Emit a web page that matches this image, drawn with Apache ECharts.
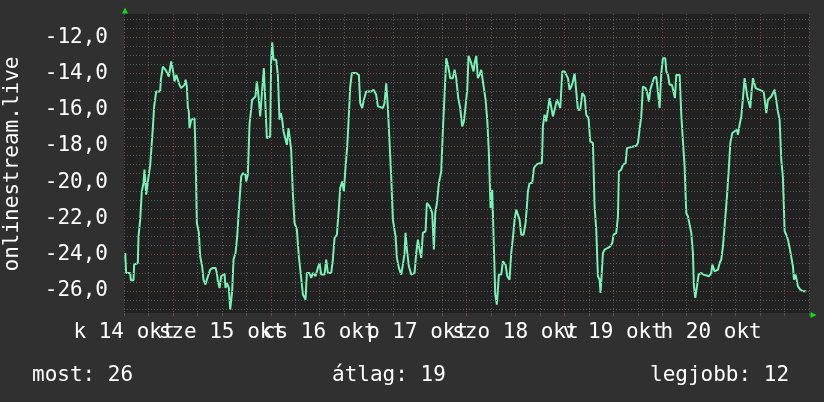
<!DOCTYPE html>
<html><head><meta charset="utf-8">
<script src="https://cdn.jsdelivr.net/npm/echarts@6/dist/echarts.min.js"></script>
<style>html,body{margin:0;padding:0;background:#303030}#c{width:824px;height:402px}</style>
</head><body><div id="c"></div>
<script>
// hours since 14 okt 12:00
const hours = [0.29,0.53,1.51,1.68,2.33,2.49,3.39,3.56,3.97,4.37,4.78,5.03,5.27,5.44,5.85,6.26,6.42,6.91,7.07,7.40,7.89,8.87,9.04,9.36,9.53,9.93,10.18,10.51,11.00,11.57,11.98,12.39,12.80,13.20,13.61,14.02,14.84,15.09,15.41,15.66,15.90,16.07,16.48,17.29,17.54,17.87,18.36,18.68,19.17,19.50,19.99,20.32,20.81,21.14,21.79,22.44,22.77,23.02,23.43,23.84,24.65,24.90,25.22,25.72,26.04,26.53,26.86,27.35,27.76,28.17,28.74,29.15,29.80,29.96,30.37,30.78,31.19,31.43,32.25,32.58,32.99,33.40,33.65,33.89,34.30,34.71,35.03,35.52,35.85,36.09,36.34,36.67,37.33,37.73,38.14,38.47,38.80,39.13,39.62,39.94,40.35,40.76,41.00,41.41,41.82,42.39,42.88,43.46,43.87,44.52,44.85,
45.50,45.91,46.32,46.97,47.55,47.96,48.36,49.18,49.59,50.00,50.82,51.23,51.63,52.21,52.70,53.02,53.52,53.92,54.25,54.74,55.07,55.48,55.89,56.95,57.60,57.93,58.42,58.83,59.40,60.63,61.20,61.85,62.27,63.49,63.90,64.31,64.72,65.13,65.53,65.94,66.60,66.93,67.42,67.99,68.40,68.81,69.05,69.38,69.87,70.44,71.26,71.67,72.08,72.49,72.90,73.30,73.96,74.28,74.94,75.59,76.00,76.33,76.74,77.23,77.80,78.21,78.62,79.03,79.52,80.01,80.66,81.07,81.48,81.97,82.46,82.95,83.36,83.77,84.18,84.50,85.16,85.73,85.98,86.39,86.79,87.20,87.61,88.02,88.68,89.09,89.49,89.90,90.31,90.72,91.05,91.45,91.94,92.52,92.93,93.58,93.99,94.56,94.97,95.38,95.79,96.20,96.61,97.02,97.42,98.00,98.49,98.81,99.06,99.47,100.12,100.53,101.10,101.92,102.50,
102.74,103.15,103.56,103.97,104.38,104.79,105.20,105.60,106.18,106.67,107.00,107.49,108.06,108.47,108.88,109.28,109.69,110.10,110.51,110.92,111.33,111.90,112.39,112.96,113.37,113.94,114.35,115.01,115.41,115.82,116.23,116.64,116.88,117.29,117.46,117.87,118.68,119.26,119.75,120.07,120.73,121.14,121.38,121.95,122.36,123.02,123.35,123.84,125.64,126.04,126.45,126.86,127.27,127.93,128.25,128.74,129.07,129.56,129.97,130.54,130.95,131.36,131.77,132.18,132.75,133.00,133.41,133.81,134.39,134.79,135.12,135.45,135.86,136.27,136.68,137.08,137.49,137.90,138.31,138.72,139.13,139.53,139.78,140.11,140.52,140.93,141.58,142.15,143.46,144.03,144.28,144.85,145.26,145.67,146.08,146.48,146.89,147.30,147.88,148.37,148.70,149.19,150.33,150.58,150.98,151.39,151.80,152.21,152.62,152.86,153.27,153.60,153.92,154.25,154.50,154.91,156.87,157.20,157.52,157.93,158.34,158.75,159.57,159.97,160.38,160.79,161.20,161.61,162.02,162.43,162.84,163.25,163.66,164.06,164.31,164.72,165.13,165.29,165.86,166.52,167.34];
const temps = [-23.91,-25.01,-25.01,-25.41,-25.41,-24.55,-24.46,-22.99,-22.07,-20.51,-20.05,-19.31,-19.31,-20.69,-19.96,-19.96,-19.07,-19.07,-17.02,-15.82,-15.00,-15.00,-14.35,-14.35,-13.62,-13.62,-13.80,-13.71,-14.17,-13.34,-13.80,-14.44,-14.08,-13.98,-14.63,-14.81,-14.63,-14.35,-14.72,-15.91,-16.10,-17.02,-16.56,-16.47,-18.39,-22.25,-22.80,-24.09,-24.64,-25.38,-25.65,-25.38,-25.38,-24.83,-24.73,-24.73,-25.01,-25.47,-25.84,-25.19,-25.05,-25.84,-25.56,-25.84,-27.03,-26.02,-24.27,-23.91,-22.99,-21.52,-19.68,-19.50,-19.59,-19.96,-19.59,-16.83,-16.74,-15.45,-15.27,-14.44,-15.27,-16.37,-16.37,-14.90,-13.71,-13.80,-17.57,-17.66,-17.48,-13.25,-12.29,-13.25,-13.25,-14.08,-16.56,-16.19,-16.56,-17.20,-17.29,-17.94,-17.02,-17.02,-18.21,-20.60,-22.25,-22.62,-24.09,-25.29,-26.20,-26.48,-25.01,
-25.01,-25.29,-25.01,-25.19,-24.73,-24.46,-25.10,-25.10,-24.27,-25.01,-25.01,-24.27,-23.08,-22.90,-21.43,-20.32,-19.96,-20.51,-19.41,-18.03,-16.65,-14.72,-13.98,-13.98,-14.08,-15.64,-15.91,-15.45,-15.00,-15.00,-14.90,-15.18,-15.82,-15.91,-15.64,-14.54,-15.91,-17.84,-19.68,-22.07,-22.99,-24.18,-24.73,-25.10,-24.55,-23.91,-22.80,-23.72,-24.64,-25.10,-25.01,-23.91,-23.17,-23.72,-24.18,-22.80,-22.71,-21.15,-21.33,-21.70,-23.72,-21.70,-21.15,-20.05,-19.41,-17.11,-15.18,-13.16,-13.62,-14.26,-14.26,-13.80,-14.26,-15.36,-15.91,-16.92,-16.65,-15.82,-14.90,-13.03,-13.43,-13.89,-13.43,-13.03,-14.26,-14.08,-13.80,-14.44,-15.45,-16.56,-18.39,-21.43,-20.42,-20.42,-26.20,-26.76,-25.10,-25.10,-24.37,-24.55,-25.19,-25.38,-23.91,-23.08,-22.07,-21.52,-21.61,-22.07,-22.90,-22.90,-22.25,-21.33,-20.51,-20.05,-20.05,-19.22,-19.04,-18.95,-18.95,
-16.92,-16.28,-16.65,-16.01,-15.36,-15.36,-16.37,-16.01,-15.45,-15.36,-15.91,-13.89,-13.89,-13.98,-14.26,-14.90,-14.72,-14.44,-13.98,-15.00,-16.01,-16.01,-15.09,-15.27,-16.28,-16.47,-17.75,-17.84,-21.33,-22.62,-25.19,-25.38,-26.11,-26.11,-23.91,-23.72,-23.63,-23.54,-23.36,-22.90,-22.80,-21.89,-19.41,-19.31,-19.04,-18.95,-18.12,-18.03,-17.99,-17.84,-17.75,-16.37,-14.72,-14.81,-15.00,-15.55,-14.90,-14.54,-14.26,-14.17,-14.08,-15.91,-13.98,-13.16,-13.16,-13.89,-14.08,-14.63,-14.63,-14.72,-15.36,-14.08,-13.98,-14.08,-16.28,-17.75,-19.13,-21.70,-21.89,-21.98,-22.80,-23.91,-25.75,-26.39,-26.30,-25.10,-25.01,-25.10,-25.19,-25.01,-24.55,-24.92,-25.01,-24.83,-24.46,-24.27,-23.54,-22.44,-20.78,-19.13,-17.84,-17.29,-17.11,-17.38,-16.83,-16.37,-15.36,-14.26,-14.26,-15.27,-15.18,-15.91,-15.00,-14.26,-14.17,-14.81,-15.00,-15.55,-16.19,-15.45,-15.45,-15.27,-14.90,-14.81,-16.10,-16.56,-18.76,-19.77,-22.71,-22.90,-23.17,-23.63,-23.72,-24.64,-25.38,-25.10,-25.10,-25.75,-25.93,-26.02,-26.02];

const dayLabels = ['k 14 okt','sze 15 okt','cs 16 okt','p 17 okt','szo 18 okt','v 19 okt','h 20 okt'];
const yTickValues = [-12,-14,-16,-18,-20,-22,-24,-26];
const yTickLabels = ['-12,0','-14,0','-16,0','-18,0','-20,0','-22,0','-24,0','-26,0'];
const summaryLabels = ['most: 26','átlag: 19','legjobb: 12'];
const axisTitle = 'onlinestream.live';

const FONT = '"DejaVu Sans Mono", monospace';
const MINOR = '#585858', MAJOR = '#7a4444';
const yGrid = [];
for (let v = -27; v <= -11; v += 0.5) yGrid.push(v);

const chart = echarts.init(document.getElementById('c'), null, {renderer:'canvas'});
chart.setOption({
  backgroundColor: '#303030',
  animation: false,
  grid: {left:124, right:15, top:14, bottom:89, show:true, backgroundColor:'#212121', borderWidth:0},
  xAxis: {
    type:'value', min:0, max:168, interval:6,
    axisLine:{show:false},
    axisTick:{show:true, length:3, lineStyle:{color:'#555'}},
    splitLine:{show:true, lineStyle:{color:[MINOR,MINOR,MAJOR,MINOR], type:[1,2], width:1}},
    axisLabel:{
      show:true, margin:9, color:'#ffffff', fontFamily:FONT, fontSize:21,
      hideOverlap:false, showMinLabel:true, showMaxLabel:true,
      formatter: v => (v % 24 === 0 && dayLabels[v/24]) ? dayLabels[v/24] : ''
    }
  },
  yAxis: {
    type:'value', min:-27.22, max:-10.72,
    axisLine:{show:false}, axisTick:{show:false}, splitLine:{show:false},
    axisLabel:{
      show:true, customValues: yTickValues, margin:16, color:'#ffffff', fontFamily:FONT, fontSize:21,
      padding:[4,0,0,0],
      formatter: v => { const i = yTickValues.indexOf(Math.round(v)); return i >= 0 ? yTickLabels[i] : ''; }
    }
  },
  series: [
    {
      type:'line', data:[], z:1, silent:true,
      markLine:{
        silent:true, symbol:['none','none'], label:{show:false}, animation:false,
        data: yGrid.map(v => ({yAxis:v, lineStyle:{color: (v % 2 === 0) ? MAJOR : MINOR, type:[1,2], width:1}}))
      }
    },
    {
      type:'line', z:3, showSymbol:false, silent:true,
      data: hours.map((h,i) => [h, temps[i]]),
      lineStyle:{color:'#78f2b6', width:2},
      itemStyle:{color:'#78f2b6'}
    }
  ],
  graphic: [
    {type:'polygon', shape:{points:[[122,13.5],[125,7.5],[128,13.5]]}, style:{fill:'#11dd11'}},
    {type:'polygon', shape:{points:[[810.5,312],[816.5,315],[810.5,318]]}, style:{fill:'#11dd11'}},
    {type:'text', x:13, y:164, rotation:Math.PI/2, style:{text:axisTitle, font:'21px '+FONT, fill:'#ffffff', align:'center', verticalAlign:'middle'}},
    {type:'text', x:32, y:375.5, style:{text:summaryLabels[0], font:'21px '+FONT, fill:'#ffffff', align:'left', verticalAlign:'middle'}},
    {type:'text', x:332, y:375.5, style:{text:summaryLabels[1], font:'21px '+FONT, fill:'#ffffff', align:'left', verticalAlign:'middle'}},
    {type:'text', x:650, y:375.5, style:{text:summaryLabels[2], font:'21px '+FONT, fill:'#ffffff', align:'left', verticalAlign:'middle'}}
  ]
});
</script></body></html>
